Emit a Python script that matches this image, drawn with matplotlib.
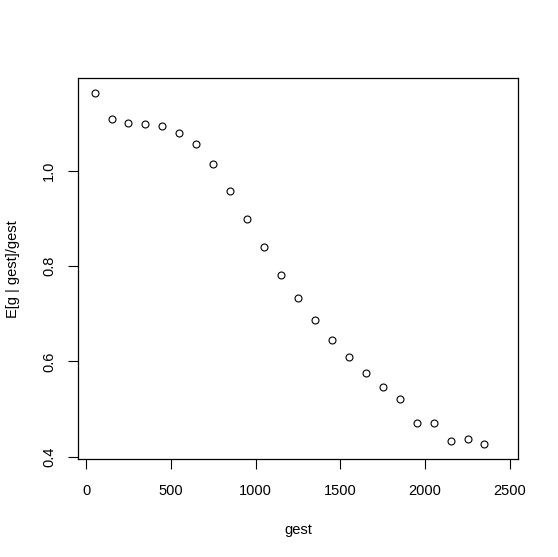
import matplotlib
matplotlib.use("Agg")
import matplotlib.pyplot as plt

plt.rcParams['font.family'] = ['Liberation Sans', 'DejaVu Sans']

gest = [50, 150, 250, 350, 450, 550, 650, 750, 850, 950, 1050, 1150,
        1250, 1350, 1450, 1550, 1650, 1750, 1850, 1950, 2050, 2150, 2250, 2350]
ratio = [1.165, 1.109, 1.102, 1.099, 1.095, 1.081, 1.057, 1.014, 0.959, 0.899,
         0.840, 0.781, 0.733, 0.687, 0.646, 0.609, 0.575, 0.546, 0.521, 0.471,
         0.471, 0.433, 0.438, 0.426]
xticks = [0, 500, 1000, 1500, 2000, 2500]
yticks = [0.4, 0.6, 0.8, 1.0]

fig = plt.figure(figsize=(5.58, 5.57), dpi=100)
ax = fig.add_axes([78.3/558, 1 - 459/557, (517.7-78.3)/558, (459-78.3)/557])
ax.plot(gest, ratio, linestyle='none', marker='o', markersize=5.0,
        markerfacecolor='none', markeredgecolor='black', markeredgewidth=0.8)
ax.set_xlim(-46, 2546)
ax.set_ylim(0.395, 1.195)
ax.set_xticks(xticks)
ax.set_xticklabels([str(t) for t in xticks])
ax.set_yticks(yticks)
ax.set_yticklabels([f"{t:.1f}" for t in yticks], rotation=90, va='center')
ax.tick_params(axis='both', direction='out', length=7, width=0.8, labelsize=10.5,
               top=False, right=False)
ax.tick_params(axis='x', pad=11)
ax.tick_params(axis='y', pad=9)
for s in ax.spines.values():
    s.set_linewidth(0.9)
ax.set_xlabel('gest', fontsize=10.5, labelpad=18)
ax.set_ylabel('E[g | gest]/gest', fontsize=10.5, labelpad=16)
fig.savefig('out.png', dpi=100)
